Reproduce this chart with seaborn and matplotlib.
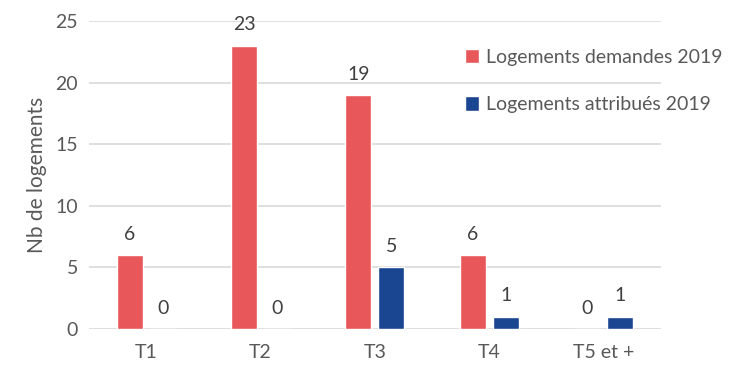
import matplotlib
matplotlib.use("Agg")
import matplotlib.pyplot as plt
import seaborn as sns
import pandas as pd

categories = ["T1", "T2", "T3", "T4", "T5 et +"]
demandes = [6, 23, 19, 6, 0]
attribues = [0, 0, 5, 1, 1]
series_names = ["Logements demandes 2019", "Logements attribués 2019"]
colors = ["#E8585A", "#1A4590"]

df = pd.DataFrame({
    "Type": categories * 2,
    "Nombre": demandes + attribues,
    "Série": [series_names[0]] * len(categories) + [series_names[1]] * len(categories),
})

sns.set_theme(style="white")
plt.rcParams["font.family"] = ["Lato", "DejaVu Sans"]
text_color = "#595959"

fig = plt.figure(figsize=(7.35, 3.71), dpi=100)
ax = fig.add_axes([0.121, 0.113, 0.778, 0.830])

sns.barplot(data=df, x="Type", y="Nombre", hue="Série", palette=colors,
            width=0.577, gap=0.21, ax=ax, saturation=1, legend=True)

ax.set_ylim(0, 25)
ax.set_yticks(range(0, 26, 5))
ax.yaxis.grid(True, color="#D9D9D9", linewidth=1.2)
ax.set_axisbelow(True)
for s in ax.spines.values():
    s.set_visible(False)
ax.tick_params(axis="both", length=0, labelsize=14, colors=text_color, pad=8)
ax.tick_params(axis="x", pad=11)
ax.set_xlabel("")
ax.set_ylabel("Nb de logements", fontsize=15, color=text_color, labelpad=6)

for cont in ax.containers:
    for bar in cont:
        h = bar.get_height()
        ax.annotate(f"{int(h)}", (bar.get_x() + bar.get_width() / 2, h),
                    xytext=(0, 9), textcoords="offset points",
                    ha="center", va="bottom", fontsize=14, color="#404040")

leg = ax.legend(loc="upper left", bbox_to_anchor=(0.632, 0.868),
                bbox_transform=fig.transFigure, frameon=False,
                fontsize=14, labelcolor=text_color, handlelength=0.75,
                handleheight=0.75, handletextpad=0.35, labelspacing=1.56,
                borderaxespad=0, borderpad=0)

fig.savefig("out.png", dpi=100)
